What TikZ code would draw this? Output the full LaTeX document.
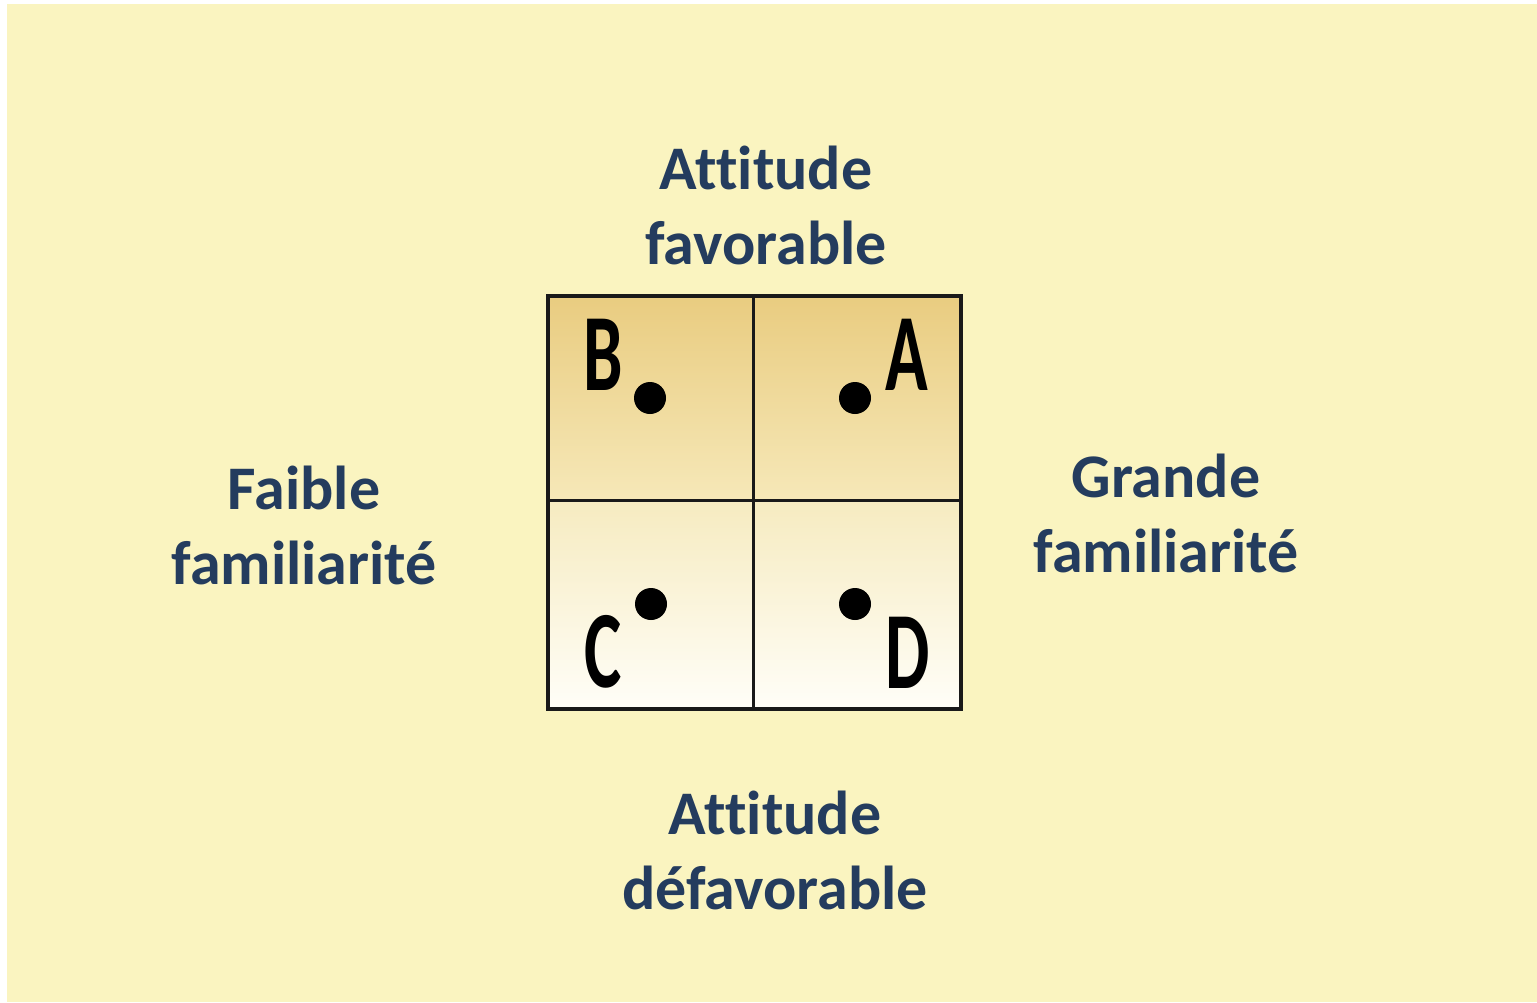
\documentclass[tikz,border=0pt]{standalone}
\usepackage{fontspec}
\setmainfont[Ligatures=NoCommon]{Carlito}
\definecolor{bgyellow}{HTML}{FAF4C0}
\definecolor{navy}{HTML}{243C5E}
\definecolor{tanTop}{HTML}{E9CC80}
\definecolor{tanMid}{HTML}{F6E8B8}
\definecolor{lowTop}{HTML}{F6EBC0}
\definecolor{lowBot}{HTML}{FFFEF8}
\tikzset{
  lbl/.style={text=navy, font=\fontsize{31pt}{37.5pt}\selectfont\bfseries, align=center, inner sep=0pt},
  cellletter/.style={font=\fontsize{55pt}{60pt}\selectfont\bfseries, xscale=0.64, inner sep=0pt, anchor=base},
  dot/.style={fill=black}
}
\begin{document}
\begin{tikzpicture}[x=0.5pt,y=-0.5pt]
\useasboundingbox (0,0) rectangle (1537,1002);
\fill[white] (0,0) rectangle (1537,1002);
\fill[bgyellow] (7,4) rectangle (1537,1002);
% cell shadings
\shade[top color=tanTop, bottom color=tanMid] (548,296) rectangle (961,500);
\shade[top color=lowTop, bottom color=lowBot] (548,500) rectangle (961,709);
% grid
\draw[line width=1.5pt, black!90] (753,296) -- (753,709);
\draw[line width=1.5pt, black!90] (548,500) -- (961,500);
\draw[line width=2pt, black!90] (548,296) rectangle (961,709);
% dots
\fill[dot] (650,398) circle[radius=8pt];
\fill[dot] (855,398) circle[radius=8pt];
\fill[dot] (651,604) circle[radius=8pt];
\fill[dot] (855,604) circle[radius=8pt];
% letters
\node[cellletter] (B) at (603,390) {B};
\node[cellletter] (A) at (907,390) {A};
\node[cellletter] (C) at (603,687) {C};
\node[cellletter] (D) at (908,688) {D};
% labels
\node[lbl] (top) at (766,205) {Attitude\\favorable};
\node[lbl] (left) at (304,525) {Faible\\familiarité};
\node[lbl] (right) at (1166,513) {Grande\\familiarité};
\node[lbl] (bottom) at (775,850) {Attitude\\défavorable};
\end{tikzpicture}
\end{document}
